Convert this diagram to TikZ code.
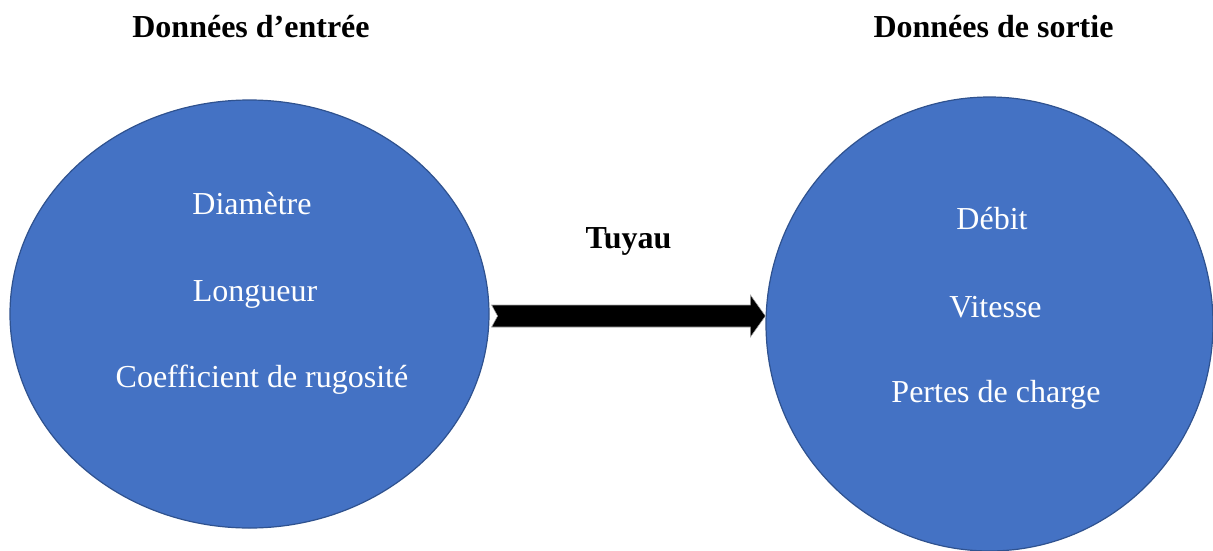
\documentclass[tikz,border=0pt]{standalone}
\usepackage{fontspec}
\setmainfont{Liberation Serif}
\usetikzlibrary{shapes.geometric,calc,positioning}

\definecolor{officeblue}{HTML}{4472C4}
\definecolor{officeline}{HTML}{2F528F}

\tikzset{
  databubble/.style={ellipse, fill=officeblue, draw=officeline, line width=0.9pt, inner sep=0pt},
  itemtext/.style={anchor=base, text=white, font=\fontsize{24}{28}\selectfont},
  headtext/.style={anchor=base, font=\fontsize{24}{28}\selectfont\bfseries}
}

\begin{document}
\begin{tikzpicture}[x=0.75pt, y=-0.75pt]
  \useasboundingbox (0,0) rectangle (1213,550);

  % Left ellipse (input data)
  \node[databubble, minimum width=359.25pt, minimum height=321pt] (inbub) at (249.5,314) {};
  \node[itemtext] (diam) at (252,214) {Diamètre};
  \node[itemtext] (longu) at (255,301) {Longueur};
  \node[itemtext] (coef) at (262,387) {Coefficient de rugosité};

  % Right ellipse (output data)
  \node[databubble, minimum width=335.25pt, minimum height=340.5pt] (outbub) at (989.5,324) {};
  \node[itemtext] (debit) at (992,229) {Débit};
  \node[itemtext] (vites) at (995.5,317) {Vitesse};
  \node[itemtext] (pertes) at (996,402) {Pertes de charge};

  % Block arrow (pipe)
  \coordinate (tail) at (inbub.east |- 0,316);
  \coordinate (tip) at (outbub.west |- 0,316);
  \fill[black, draw=black!35, line width=0.4pt]
    ($(tail)+(2,-11)$) -- ($(tip)+(-15,-11)$) -- ($(tip)+(-15,-21)$) -- (tip)
    -- ($(tip)+(-15,21)$) -- ($(tip)+(-15,11)$) -- ($(tail)+(2,11)$)
    -- ($(tail)+(8,0)$) -- cycle;
  \node[headtext] (pipe) at (628.5,248) {Tuyau};

  % Titles
  \node[headtext] (intitle) at (251,37) {Données d’entrée};
  \node[headtext] (outtitle) at (993.5,37) {Données de sortie};
\end{tikzpicture}
\end{document}
